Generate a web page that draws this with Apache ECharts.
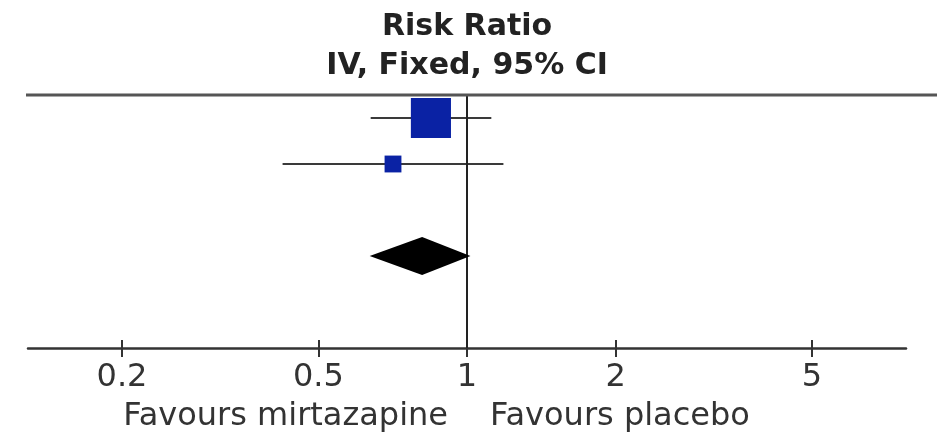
<!DOCTYPE html>
<html>
<head>
<meta charset="utf-8">
<script src="https://cdn.jsdelivr.net/npm/echarts@6/dist/echarts.min.js"></script>
<style>
  html, body { margin: 0; padding: 0; background: #ffffff; }
  #chart { width: 947px; height: 438px; }
</style>
</head>
<body>
<div id="chart"></div>
<script>
// Risk ratio per study with 95% confidence interval (IV, fixed effect)
const studyRR = [0.845, 0.708];
const studyLower = [0.638, 0.423];
const studyUpper = [1.12, 1.185];
const studyWeight = [85, 15]; // percent of total weight

// Pooled estimate
const pooledRR = 0.811;
const pooledLower = 0.635;
const pooledUpper = 1.016;

// Axis ticks and texts
const tickLabels = [0.2, 0.5, 1, 2, 5];
const titleLines = ['Risk Ratio', 'IV, Fixed, 95% CI'];
const favoursLeft = 'Favours mirtazapine';
const favoursRight = 'Favours placebo';

// ---- layout ----
const AXIS_MIN = 0.129, AXIS_MAX = 7.75;   // visible ratio range
const ROW_Y = [0.5, 1.5];                   // study rows
const POOLED_Y = 3.5;                       // pooled row
const Y_MAX = 5.5;
const GRID = { left: 28, right: 41, top: 95, bottom: 90 };
const FONT = 'DejaVu Sans';
const INK = '#333333';

const lg = v => Math.log10(v);
const tickPos = tickLabels.map(lg);
const tickText = v => {
  let best = 0;
  tickPos.forEach((p, i) => { if (Math.abs(p - v) < Math.abs(tickPos[best] - v)) best = i; });
  return String(tickLabels[best]);
};

const chart = echarts.init(document.getElementById('chart'), null, { renderer: 'canvas' });

const baseX = {
  type: 'value',
  min: lg(AXIS_MIN),
  max: lg(AXIS_MAX),
  position: 'bottom',
  splitLine: { show: false }
};

chart.setOption({
  backgroundColor: '#ffffff',
  animation: false,
  grid: [
    Object.assign({}, GRID),
    Object.assign({}, GRID)
  ],
  xAxis: [
    Object.assign({}, baseX, {
      gridIndex: 0,
      axisLine: { show: true, onZero: false, lineStyle: { color: INK, width: 2.5 } },
      axisTick: { show: true, inside: false, length: 9, customValues: tickPos,
                  lineStyle: { color: INK, width: 2 } },
      axisLabel: { show: true, customValues: tickPos, formatter: tickText, margin: 14,
                   fontFamily: FONT, fontSize: 32, lineHeight: 32, color: INK }
    }),
    Object.assign({}, baseX, {
      gridIndex: 1,
      axisLine: { show: false, onZero: false },
      axisTick: { show: true, inside: true, length: 8, customValues: tickPos,
                  lineStyle: { color: INK, width: 2 } },
      axisLabel: { show: false }
    })
  ],
  yAxis: [
    { type: 'value', gridIndex: 0, inverse: true, min: 0, max: Y_MAX, show: false },
    { type: 'value', gridIndex: 1, inverse: true, min: 0, max: Y_MAX, show: false }
  ],
  series: [
    {
      // confidence interval whiskers
      type: 'custom',
      xAxisIndex: 0, yAxisIndex: 0,
      data: studyRR.map((rr, i) => [lg(studyLower[i]), lg(studyUpper[i]), ROW_Y[i]]),
      encode: { x: [0, 1], y: 2 },
      renderItem: (params, api) => {
        const a = api.coord([api.value(0), api.value(2)]);
        const b = api.coord([api.value(1), api.value(2)]);
        return {
          type: 'line',
          shape: { x1: a[0], y1: a[1], x2: b[0], y2: b[1] },
          style: { stroke: '#3a3a3a', lineWidth: 2 }
        };
      },
      z: 2,
      markLine: {
        silent: true,
        symbol: 'none',
        label: { show: false },
        lineStyle: { color: '#222222', width: 2, type: 'solid' },
        data: [{ xAxis: lg(1) }],
        z: 3
      }
    },
    {
      // study point estimates, box area proportional to weight
      type: 'scatter',
      xAxisIndex: 0, yAxisIndex: 0,
      data: studyRR.map((rr, i) => [lg(rr), ROW_Y[i], studyWeight[i]]),
      symbol: 'rect',
      symbolSize: v => 4.35 * Math.sqrt(v[2]),
      itemStyle: { color: '#0a22a4', opacity: 1 },
      z: 4
    },
    {
      // pooled estimate diamond
      type: 'custom',
      xAxisIndex: 0, yAxisIndex: 0,
      data: [[lg(pooledLower), lg(pooledRR), lg(pooledUpper), POOLED_Y]],
      encode: { x: [0, 1, 2], y: 3 },
      renderItem: (params, api) => {
        const y = api.value(3);
        const l = api.coord([api.value(0), y]);
        const c = api.coord([api.value(1), y]);
        const r = api.coord([api.value(2), y]);
        const h = 19;
        return {
          type: 'polygon',
          shape: { points: [[l[0], l[1]], [c[0], c[1] - h], [r[0], r[1]], [c[0], c[1] + h]] },
          style: { fill: '#000000' }
        };
      },
      z: 5
    }
  ]
});

// Header, rule and direction labels placed relative to the line of no effect
const xOne = chart.convertToPixel({ xAxisIndex: 0 }, lg(1));
const xLeft = chart.convertToPixel({ xAxisIndex: 0 }, lg(AXIS_MIN));
chart.setOption({
  graphic: [
    {
      type: 'line', z: 10,
      shape: { x1: xLeft - 2, y1: GRID.top, x2: 937, y2: GRID.top },
      style: { stroke: '#555555', lineWidth: 3 }
    },
    {
      type: 'text', z: 10,
      x: xOne, y: 27,
      style: { text: titleLines[0], fontFamily: FONT, fontWeight: 'bold', fontSize: 30,
               fill: '#222222', align: 'center', verticalAlign: 'middle' }
    },
    {
      type: 'text', z: 10,
      x: xOne, y: 66,
      style: { text: titleLines[1], fontFamily: FONT, fontWeight: 'bold', fontSize: 30,
               fill: '#222222', align: 'center', verticalAlign: 'middle' }
    },
    {
      type: 'text', z: 10,
      x: xOne - 19, y: 417,
      style: { text: favoursLeft, fontFamily: FONT, fontSize: 32, fill: INK,
               align: 'right', verticalAlign: 'middle' }
    },
    {
      type: 'text', z: 10,
      x: xOne + 23, y: 417,
      style: { text: favoursRight, fontFamily: FONT, fontSize: 32, fill: INK,
               align: 'left', verticalAlign: 'middle' }
    }
  ]
});
</script>
</body>
</html>
